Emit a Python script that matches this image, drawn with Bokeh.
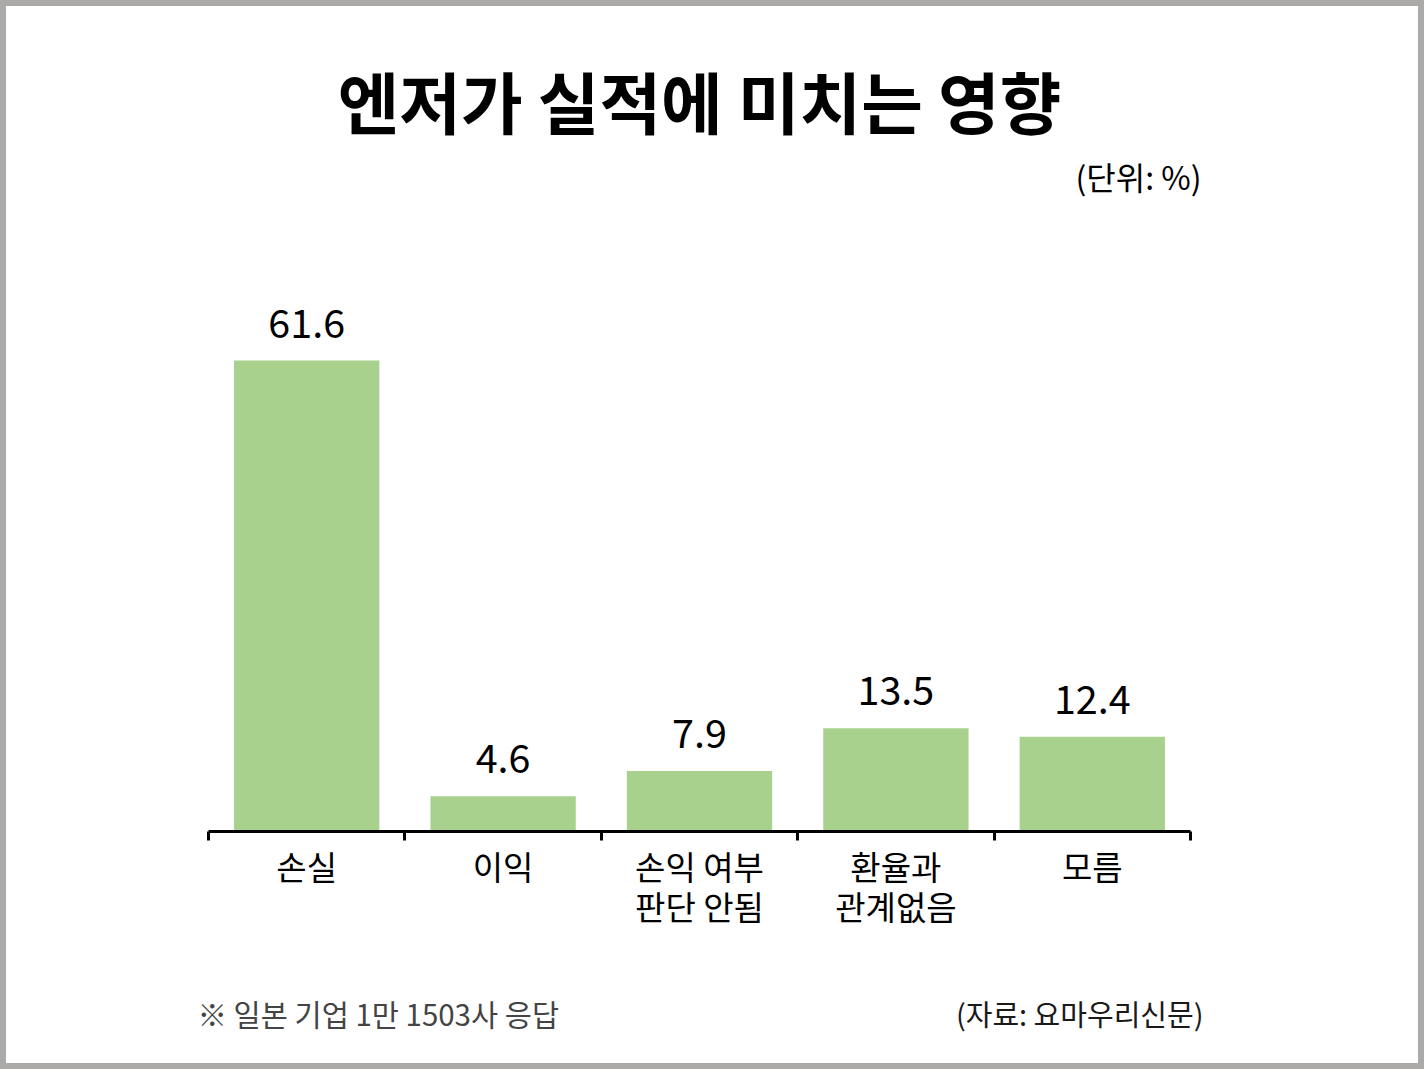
from bokeh.plotting import figure
from bokeh.models import Range1d, FixedTicker, Label, LabelSet, ColumnDataSource
from bokeh.core.properties import value
from bokeh.layouts import column
from bokeh.embed import file_html
from bokeh.resources import INLINE

# ---- data ----
categories = ["손실", "이익", "손익 여부\n판단 안됨", "환율과\n관계없음", "모름"]
values = [61.6, 4.6, 7.9, 13.5, 12.4]
value_labels = ["61.6", "4.6", "7.9", "13.5", "12.4"]
title_text = "엔저가 실적에 미치는 영향"
unit_text = "(단위: %)"
note_text = "※ 일본 기업 1만 1503사 응답"
source_text = "(자료: 요마우리신문)"

FONT = "Noto Sans CJK KR"
W = 1412
HM = 960          # main figure height
HF = 1057 - HM    # footer figure height
FRAME_H = 825     # frame height in main figure (baseline at canvas y=825)
CAT_PX = 196.4    # pixels per category
LEFT_PX = 202     # canvas x of first category boundary
PX_PER_UNIT = 7.646

n = len(categories)
centers = [i + 0.5 for i in range(n)]
bounds = [float(i) for i in range(n + 1)]

src = ColumnDataSource(dict(x=centers, top=values, lab=value_labels))

x0 = -LEFT_PX / CAT_PX
x1 = x0 + W / CAT_PX
p = figure(width=W, height=HM, output_backend="svg", toolbar_location=None,
           x_range=Range1d(x0, x1), y_range=Range1d(0, FRAME_H / PX_PER_UNIT),
           min_border_left=0, min_border_right=0,
           min_border_top=0, min_border_bottom=HM - FRAME_H,
           y_axis_location=None)
p.outline_line_color = None
p.xgrid.visible = False
p.ygrid.visible = False
p.background_fill_color = "white"
p.border_fill_color = "white"

p.vbar(x="x", top="top", width=0.74, bottom=0, source=src,
       fill_color="#A9D18E", line_color=None)

ax = p.xaxis[0]
ax.bounds = (0, n)
ax.ticker = FixedTicker(ticks=centers, minor_ticks=bounds)
ax.major_label_overrides = {c: lab for c, lab in zip(centers, categories)}
ax.axis_line_color = "black"
ax.axis_line_width = 3
ax.major_tick_line_color = None
ax.minor_tick_line_color = "black"
ax.minor_tick_line_width = 3
ax.minor_tick_in = 0
ax.minor_tick_out = 9
ax.major_label_standoff = 1
ax.major_label_text_font = FONT
ax.major_label_text_font_size = "33px"
ax.major_label_text_color = "black"
ax.major_label_text_line_height = 0.84

p.add_layout(LabelSet(x="x", y="top", text="lab", source=src,
                      text_align="center", text_baseline="bottom", y_offset=23,
                      text_font=value(FONT), text_font_size=value("39.5px"),
                      text_color="black"))

# title + unit (screen units measured from frame bottom-left)
p.add_layout(Label(x=693, y=FRAME_H - 93, x_units="screen", y_units="screen",
                   text=title_text, text_align="center", text_baseline="middle",
                   text_font=FONT, text_font_size="67px", text_font_style="bold",
                   text_color="black"))
p.add_layout(Label(x=1195, y=FRAME_H - 169, x_units="screen", y_units="screen",
                   text=unit_text, text_align="right", text_baseline="middle",
                   text_font=FONT, text_font_size="32px", text_color="black"))

# footer figure
f = figure(width=W, height=HF, output_backend="svg", toolbar_location=None,
           x_range=Range1d(0, W), y_range=Range1d(0, HF),
           min_border_left=0, min_border_right=0, min_border_top=0, min_border_bottom=0,
           x_axis_location=None, y_axis_location=None)
f.outline_line_color = None
f.xgrid.visible = False
f.ygrid.visible = False
f.background_fill_color = "white"
f.border_fill_color = "white"
foot_y = HF - (1006 - HM)
f.add_layout(Label(x=191, y=foot_y, text=note_text, text_align="left", text_baseline="middle",
                   text_font=FONT, text_font_size="29.5px", text_color="#444444"))
f.add_layout(Label(x=1197, y=foot_y, text=source_text, text_align="right", text_baseline="middle",
                   text_font=FONT, text_font_size="29px", text_color="#1a1a1a"))

layout = column(p, f, spacing=0, styles={"border": "6px solid #ABAAA8"})
open("out.html", "w").write(file_html(layout, INLINE))
